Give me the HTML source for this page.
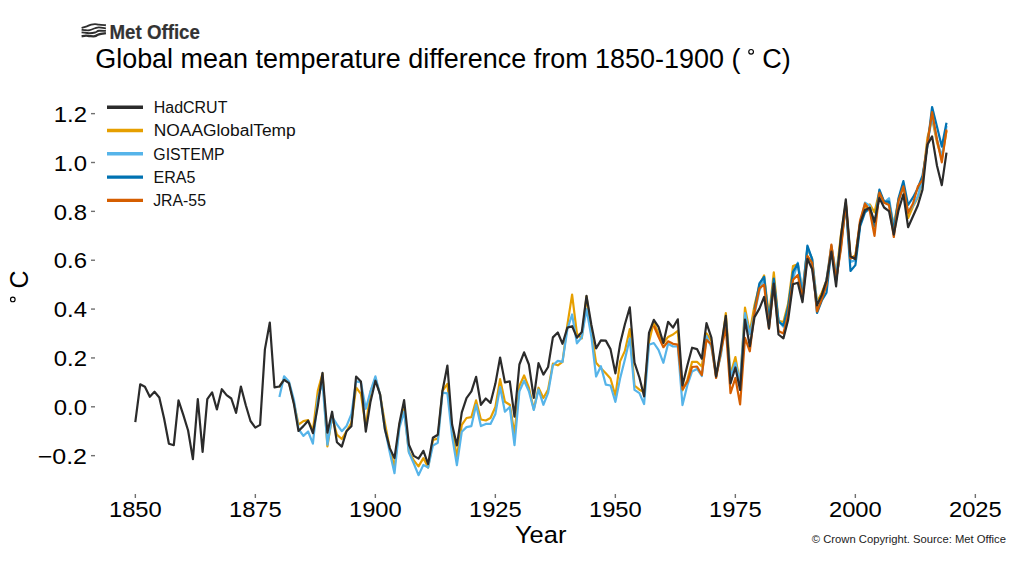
<!DOCTYPE html>
<html><head><meta charset="utf-8"><style>
html,body{margin:0;padding:0;background:#fff;width:1024px;height:580px;overflow:hidden}
svg{display:block}
text{font-family:"Liberation Sans",sans-serif;fill:#000}
.tk{font-size:22.3px}
.lg{font-size:16px;fill:#111}
</style></head><body>
<svg width="1024" height="580" viewBox="0 0 1024 580">
<rect width="1024" height="580" fill="#fff"/>
<g fill="none" stroke="#2e2e2e" stroke-linecap="butt">
<path d="M81.60,27.80 C82.48,27.57 85.28,26.93 86.90,26.40 C88.52,25.87 89.95,24.98 91.30,24.60 C92.65,24.22 93.73,24.10 95.00,24.10 C96.27,24.10 97.08,24.42 98.90,24.60 C100.72,24.78 104.73,25.10 105.90,25.20" stroke-width="1.9"/>
<path d="M81.60,29.80 C82.33,29.87 84.63,30.15 86.00,30.20 C87.37,30.25 88.30,30.42 89.80,30.10 C91.30,29.78 93.48,28.77 95.00,28.30 C96.52,27.83 97.08,27.30 98.90,27.30 C100.72,27.30 104.73,28.13 105.90,28.30" stroke-width="1.7"/>
<path d="M81.60,32.30 C82.33,32.38 84.63,32.63 86.00,32.80 C87.37,32.97 88.30,33.35 89.80,33.30 C91.30,33.25 93.48,32.92 95.00,32.50 C96.52,32.08 97.08,31.07 98.90,30.80 C100.72,30.53 104.73,30.88 105.90,30.90" stroke-width="1.9"/>
<path d="M81.60,36.30 C82.33,36.18 84.63,35.63 86.00,35.60 C87.37,35.57 88.30,36.00 89.80,36.10 C91.30,36.20 93.48,36.50 95.00,36.20 C96.52,35.90 97.08,34.82 98.90,34.30 C100.72,33.78 104.73,33.30 105.90,33.10" stroke-width="2.3"/>
</g>
<text x="109.5" y="39" textLength="90.4" lengthAdjust="spacingAndGlyphs" style="font-size:20px;font-weight:bold;fill:#333;stroke:#333;stroke-width:0.2">Met Office</text>
<text x="95.2" y="67.9" textLength="645.3" lengthAdjust="spacingAndGlyphs" style="font-size:27px">Global mean temperature difference from 1850-1900 (</text>
<circle cx="751.1" cy="51.8" r="2.35" fill="none" stroke="#000" stroke-width="1.15"/>
<text x="762.2" y="68.1" style="font-size:27px">C)</text>
<line x1="91" x2="95" y1="113.64" y2="113.64" stroke="#707070" stroke-width="1.4"/><text x="87" y="121.84" text-anchor="end" class="tk" textLength="33.20" lengthAdjust="spacingAndGlyphs">1.2</text><line x1="91" x2="95" y1="162.50" y2="162.50" stroke="#707070" stroke-width="1.4"/><text x="87" y="170.70" text-anchor="end" class="tk" textLength="33.20" lengthAdjust="spacingAndGlyphs">1.0</text><line x1="91" x2="95" y1="211.36" y2="211.36" stroke="#707070" stroke-width="1.4"/><text x="87" y="219.56" text-anchor="end" class="tk" textLength="33.20" lengthAdjust="spacingAndGlyphs">0.8</text><line x1="91" x2="95" y1="260.22" y2="260.22" stroke="#707070" stroke-width="1.4"/><text x="87" y="268.42" text-anchor="end" class="tk" textLength="33.20" lengthAdjust="spacingAndGlyphs">0.6</text><line x1="91" x2="95" y1="309.08" y2="309.08" stroke="#707070" stroke-width="1.4"/><text x="87" y="317.28" text-anchor="end" class="tk" textLength="33.20" lengthAdjust="spacingAndGlyphs">0.4</text><line x1="91" x2="95" y1="357.94" y2="357.94" stroke="#707070" stroke-width="1.4"/><text x="87" y="366.14" text-anchor="end" class="tk" textLength="33.20" lengthAdjust="spacingAndGlyphs">0.2</text><line x1="91" x2="95" y1="406.80" y2="406.80" stroke="#707070" stroke-width="1.4"/><text x="87" y="415.00" text-anchor="end" class="tk" textLength="33.20" lengthAdjust="spacingAndGlyphs">0.0</text><line x1="91" x2="95" y1="455.66" y2="455.66" stroke="#707070" stroke-width="1.4"/><text x="87" y="463.86" text-anchor="end" class="tk" textLength="49.30" lengthAdjust="spacingAndGlyphs">−0.2</text>
<line x1="135.35" x2="135.35" y1="494" y2="498" stroke="#707070" stroke-width="1.4"/><text x="135.35" y="517" text-anchor="middle" class="tk" textLength="52.8" lengthAdjust="spacingAndGlyphs">1850</text><line x1="255.35" x2="255.35" y1="494" y2="498" stroke="#707070" stroke-width="1.4"/><text x="255.35" y="517" text-anchor="middle" class="tk" textLength="52.8" lengthAdjust="spacingAndGlyphs">1875</text><line x1="375.35" x2="375.35" y1="494" y2="498" stroke="#707070" stroke-width="1.4"/><text x="375.35" y="517" text-anchor="middle" class="tk" textLength="52.8" lengthAdjust="spacingAndGlyphs">1900</text><line x1="495.35" x2="495.35" y1="494" y2="498" stroke="#707070" stroke-width="1.4"/><text x="495.35" y="517" text-anchor="middle" class="tk" textLength="52.8" lengthAdjust="spacingAndGlyphs">1925</text><line x1="615.35" x2="615.35" y1="494" y2="498" stroke="#707070" stroke-width="1.4"/><text x="615.35" y="517" text-anchor="middle" class="tk" textLength="52.8" lengthAdjust="spacingAndGlyphs">1950</text><line x1="735.35" x2="735.35" y1="494" y2="498" stroke="#707070" stroke-width="1.4"/><text x="735.35" y="517" text-anchor="middle" class="tk" textLength="52.8" lengthAdjust="spacingAndGlyphs">1975</text><line x1="855.35" x2="855.35" y1="494" y2="498" stroke="#707070" stroke-width="1.4"/><text x="855.35" y="517" text-anchor="middle" class="tk" textLength="52.8" lengthAdjust="spacingAndGlyphs">2000</text><line x1="975.35" x2="975.35" y1="494" y2="498" stroke="#707070" stroke-width="1.4"/><text x="975.35" y="517" text-anchor="middle" class="tk" textLength="52.8" lengthAdjust="spacingAndGlyphs">2025</text>
<line x1="107" x2="143" y1="107.20" y2="107.20" stroke="#2b2b2b" stroke-width="3.4"/><text x="153.80" y="113.00" class="lg" textLength="73.60" lengthAdjust="spacingAndGlyphs">HadCRUT</text><line x1="107" x2="143" y1="130.50" y2="130.50" stroke="#E69F00" stroke-width="3.4"/><text x="153.70" y="136.30" class="lg" textLength="142.10" lengthAdjust="spacingAndGlyphs">NOAAGlobalTemp</text><line x1="107" x2="143" y1="153.80" y2="153.80" stroke="#56B4E9" stroke-width="3.4"/><text x="153.30" y="159.60" class="lg" textLength="71.40" lengthAdjust="spacingAndGlyphs">GISTEMP</text><line x1="107" x2="143" y1="177.10" y2="177.10" stroke="#0072B2" stroke-width="3.4"/><text x="153.50" y="182.90" class="lg" textLength="41.90" lengthAdjust="spacingAndGlyphs">ERA5</text><line x1="107" x2="143" y1="200.40" y2="200.40" stroke="#D55E00" stroke-width="3.4"/><text x="153.20" y="206.20" class="lg" textLength="52.80" lengthAdjust="spacingAndGlyphs">JRA-55</text>
<text x="514.9" y="542.5" textLength="51.5" lengthAdjust="spacingAndGlyphs" style="font-size:24.5px">Year</text>
<text transform="translate(28,288.6) rotate(-90)" style="font-size:25px">C</text>
<circle cx="12.8" cy="299.4" r="2.3" fill="none" stroke="#000" stroke-width="1.15"/>
<text x="811.8" y="542.8" textLength="194.1" lengthAdjust="spacingAndGlyphs" style="font-size:11.2px;fill:#222">&#169; Crown Copyright. Source: Met Office</text>
<polyline fill="none" stroke="#E69F00" stroke-width="2.2" stroke-linejoin="round" stroke-linecap="butt" points="279.4,387.5 284.1,378.7 288.9,382.4 293.8,402.2 298.5,424.6 303.4,421.2 308.1,420.2 312.9,430.7 317.8,390.9 322.5,373.6 327.4,446.4 332.1,416.8 336.9,434.7 341.8,439.0 346.5,431.2 351.4,422.7 356.1,387.5 360.9,393.9 365.8,426.8 370.5,391.7 375.4,378.5 380.1,394.6 384.9,422.9 389.8,448.8 394.5,467.1 399.4,424.6 404.1,409.0 408.9,451.8 413.8,460.3 418.5,466.4 423.4,458.1 428.1,467.6 432.9,440.0 437.8,438.6 442.5,390.9 447.4,383.8 452.1,428.8 456.9,456.9 461.8,424.9 466.5,418.0 471.4,417.1 476.1,400.4 480.9,419.5 485.8,420.5 490.5,418.0 495.4,407.0 500.1,379.2 504.9,401.7 509.8,404.8 514.5,433.9 519.4,386.0 524.1,375.5 528.9,387.7 533.8,409.2 538.5,387.7 543.4,398.0 548.1,389.5 552.9,363.6 557.8,365.3 562.5,361.8 567.4,324.7 572.1,294.7 576.9,333.5 581.8,338.4 586.5,296.4 591.4,331.8 596.1,362.8 600.9,368.2 605.8,373.3 610.5,378.5 615.4,395.8 620.1,361.4 624.9,350.9 629.8,329.1 634.5,385.5 639.4,389.7 644.1,392.1 649.0,342.1 653.8,322.0 658.5,333.8 663.4,343.0 668.1,336.9 673.0,334.5 677.8,330.8 682.5,390.4 687.4,379.9 692.1,361.8 697.0,361.8 701.8,366.5 706.5,333.3 711.4,340.8 716.1,376.0 721.0,351.8 725.8,313.2 730.5,374.1 735.4,357.0 740.1,383.6 745.0,307.6 749.8,332.3 754.5,305.2 759.4,285.4 764.1,275.4 769.0,316.7 773.8,272.4 778.5,320.8 783.4,322.0 788.1,303.9 793.0,266.1 797.8,264.4 802.5,291.0 807.4,249.0 812.1,258.5 817.0,302.0 821.8,292.7 826.5,280.3 831.4,246.3 836.1,275.9 841.0,234.3 845.8,202.8 850.5,258.3 855.4,255.1 860.1,222.8 865.0,207.5 869.8,204.3 874.5,212.3 879.4,191.3 884.1,201.8 889.0,202.6 893.8,225.3 898.5,199.4 903.4,185.5 908.1,218.0 913.0,206.5 917.8,197.4 922.5,181.3 927.4,138.1 932.1,118.5 937.0,142.5 941.8,158.8 946.5,130.7"/>
<polyline fill="none" stroke="#56B4E9" stroke-width="2.2" stroke-linejoin="round" stroke-linecap="butt" points="279.4,397.0 284.1,376.3 288.9,381.4 293.8,399.5 298.5,429.0 303.4,435.9 308.1,431.5 312.9,443.7 317.8,398.5 322.5,382.4 327.4,444.7 332.1,416.8 336.9,424.4 341.8,431.2 346.5,426.1 351.4,414.1 356.1,381.4 360.9,382.4 365.8,408.8 370.5,391.4 375.4,376.3 380.1,395.1 384.9,428.8 389.8,452.5 394.5,473.2 399.4,427.6 404.1,411.7 408.9,452.5 413.8,463.5 418.5,475.2 423.4,464.9 428.1,467.6 432.9,445.6 437.8,442.7 442.5,392.6 447.4,393.4 452.1,436.1 456.9,465.2 461.8,431.7 466.5,427.1 471.4,426.1 476.1,404.8 480.9,426.1 485.8,423.9 490.5,423.9 495.4,413.9 500.1,387.0 504.9,411.7 509.8,407.0 514.5,445.2 519.4,391.2 524.1,380.7 528.9,391.2 533.8,410.0 538.5,389.5 543.4,404.8 548.1,392.9 552.9,365.3 557.8,360.9 562.5,361.8 567.4,329.1 572.1,314.5 576.9,343.3 581.8,337.2 586.5,309.1 591.4,336.7 596.1,376.5 600.9,366.2 605.8,384.6 610.5,385.5 615.4,401.9 620.1,378.5 624.9,359.4 629.8,338.6 634.5,389.9 639.4,393.1 644.1,404.1 649.0,344.7 653.8,343.0 658.5,349.9 663.4,362.8 668.1,343.8 673.0,346.5 677.8,346.5 682.5,405.1 687.4,385.1 692.1,371.4 697.0,368.9 701.8,376.0 706.5,336.0 711.4,347.4 716.1,375.5 721.0,354.5 725.8,319.1 730.5,376.3 735.4,362.8 740.1,381.9 745.0,313.2 749.8,334.2 754.5,313.7 759.4,290.8 764.1,277.6 769.0,322.8 773.8,282.7 778.5,320.8 783.4,326.7 788.1,312.7 793.0,279.0 797.8,262.7 802.5,291.5 807.4,247.3 812.1,259.2 817.0,302.7 821.8,300.0 826.5,280.0 831.4,245.6 836.1,274.4 841.0,242.4 845.8,205.3 850.5,261.9 855.4,260.2 860.1,224.1 865.0,202.6 869.8,205.7 874.5,228.2 879.4,192.1 884.1,202.6 889.0,198.2 893.8,228.0 898.5,201.6 903.4,185.0 908.1,212.3 913.0,205.5 917.8,196.2 922.5,179.6 927.4,143.4 932.1,117.1 937.0,139.5 941.8,157.1 946.5,125.9"/>
<polyline fill="none" stroke="#0072B2" stroke-width="2.2" stroke-linejoin="round" stroke-linecap="butt" points="754.5,309.8 759.4,283.4 764.1,276.8 769.0,321.5 773.8,278.5 778.5,321.5 783.4,325.4 788.1,307.1 793.0,271.9 797.8,263.6 802.5,298.8 807.4,245.6 812.1,259.0 817.0,313.0 821.8,300.5 826.5,292.7 831.4,249.2 836.1,280.3 841.0,245.8 845.8,204.0 850.5,271.0 855.4,265.1 860.1,226.5 865.0,212.3 869.8,208.2 874.5,225.8 879.4,189.6 884.1,201.6 889.0,201.6 893.8,230.7 898.5,198.4 903.4,181.1 908.1,205.0 913.0,197.4 917.8,188.2 922.5,175.7 927.4,146.4 932.1,107.0 937.0,126.8 941.8,146.6 946.5,122.7"/>
<polyline fill="none" stroke="#D55E00" stroke-width="2.2" stroke-linejoin="round" stroke-linecap="butt" points="653.8,325.7 658.5,336.9 663.4,347.2 668.1,341.3 673.0,343.8 677.8,344.7 682.5,389.5 687.4,381.6 692.1,367.0 697.0,366.5 701.8,375.0 706.5,339.9 711.4,344.5 716.1,378.0 721.0,351.3 725.8,327.4 730.5,393.1 735.4,378.0 740.1,404.4 745.0,337.9 749.8,351.3 754.5,312.3 759.4,288.3 764.1,284.6 769.0,328.6 773.8,284.6 778.5,331.1 783.4,333.5 788.1,314.0 793.0,279.8 797.8,274.9 802.5,298.3 807.4,255.8 812.1,262.9 817.0,311.5 821.8,299.3 826.5,284.9 831.4,244.6 836.1,279.8 841.0,248.7 845.8,202.8 850.5,258.5 855.4,256.6 860.1,220.2 865.0,203.5 869.8,211.1 874.5,235.8 879.4,192.5 884.1,202.8 889.0,205.0 893.8,237.0 898.5,200.9 903.4,186.4 908.1,212.8 913.0,203.5 917.8,186.7 922.5,179.8 927.4,143.4 932.1,112.2 937.0,139.5 941.8,162.3 946.5,129.5"/>
<polyline fill="none" stroke="#2b2b2b" stroke-width="2.2" stroke-linejoin="round" stroke-linecap="butt" points="135.3,422.2 140.2,384.3 144.9,386.8 149.8,396.8 154.5,391.7 159.3,397.5 164.1,418.5 168.9,443.7 173.8,445.2 178.5,400.4 183.3,414.9 188.1,430.5 192.9,459.1 197.8,399.0 202.6,451.8 207.3,399.2 212.1,392.4 216.9,409.5 221.8,389.2 226.6,395.1 231.3,398.5 236.1,412.9 240.9,386.5 245.8,405.3 250.5,421.0 255.3,427.6 260.1,424.9 264.9,349.4 269.8,322.5 274.5,387.3 279.4,386.5 284.1,379.9 288.9,383.1 293.8,403.4 298.5,431.0 303.4,426.1 308.1,420.7 312.9,433.2 317.8,406.1 322.5,372.8 327.4,432.7 332.1,411.7 336.9,442.2 341.8,446.6 346.5,431.2 351.4,426.3 356.1,376.5 360.9,381.4 365.8,431.7 370.5,401.7 375.4,380.7 380.1,394.3 384.9,429.3 389.8,448.1 394.5,458.1 399.4,423.2 404.1,400.2 408.9,444.7 413.8,455.9 418.5,458.6 423.4,450.8 428.1,464.0 432.9,437.8 437.8,434.7 442.5,390.7 447.4,365.5 452.1,424.6 456.9,445.4 461.8,412.4 466.5,398.2 471.4,391.4 476.1,376.8 480.9,404.8 485.8,398.5 490.5,402.9 495.4,383.6 500.1,357.5 504.9,382.4 509.8,381.4 514.5,416.6 519.4,364.5 524.1,352.3 528.9,364.5 533.8,397.8 538.5,363.1 543.4,374.6 548.1,367.0 552.9,337.4 557.8,332.5 562.5,343.8 567.4,327.6 572.1,326.2 576.9,337.7 581.8,332.0 586.5,295.9 591.4,325.0 596.1,348.4 600.9,340.4 605.8,340.6 610.5,349.1 615.4,373.3 620.1,343.8 624.9,324.2 629.8,307.4 634.5,362.6 639.4,377.5 644.1,396.3 649.0,332.8 653.8,319.8 658.5,326.9 663.4,343.0 668.1,321.8 673.0,327.6 677.8,319.3 682.5,385.5 687.4,365.3 692.1,347.7 697.0,349.1 701.8,358.7 706.5,323.2 711.4,337.7 716.1,376.5 721.0,346.9 725.8,315.9 730.5,383.3 735.4,367.5 740.1,389.9 745.0,319.6 749.8,346.2 754.5,317.1 759.4,308.6 764.1,296.9 769.0,328.4 773.8,283.7 778.5,334.5 783.4,338.4 788.1,320.1 793.0,284.2 797.8,282.7 802.5,302.2 807.4,258.8 812.1,269.0 817.0,305.4 821.8,294.9 826.5,280.3 831.4,251.7 836.1,286.4 841.0,235.8 845.8,199.4 850.5,256.3 855.4,259.2 860.1,223.3 865.0,209.9 869.8,207.7 874.5,221.9 879.4,197.9 884.1,207.5 889.0,211.1 893.8,234.6 898.5,210.4 903.4,194.3 908.1,227.2 913.0,216.2 917.8,205.5 922.5,189.6 927.4,144.7 932.1,136.4 937.0,165.7 941.8,185.2 946.5,152.7"/>
</svg>
</body></html>
